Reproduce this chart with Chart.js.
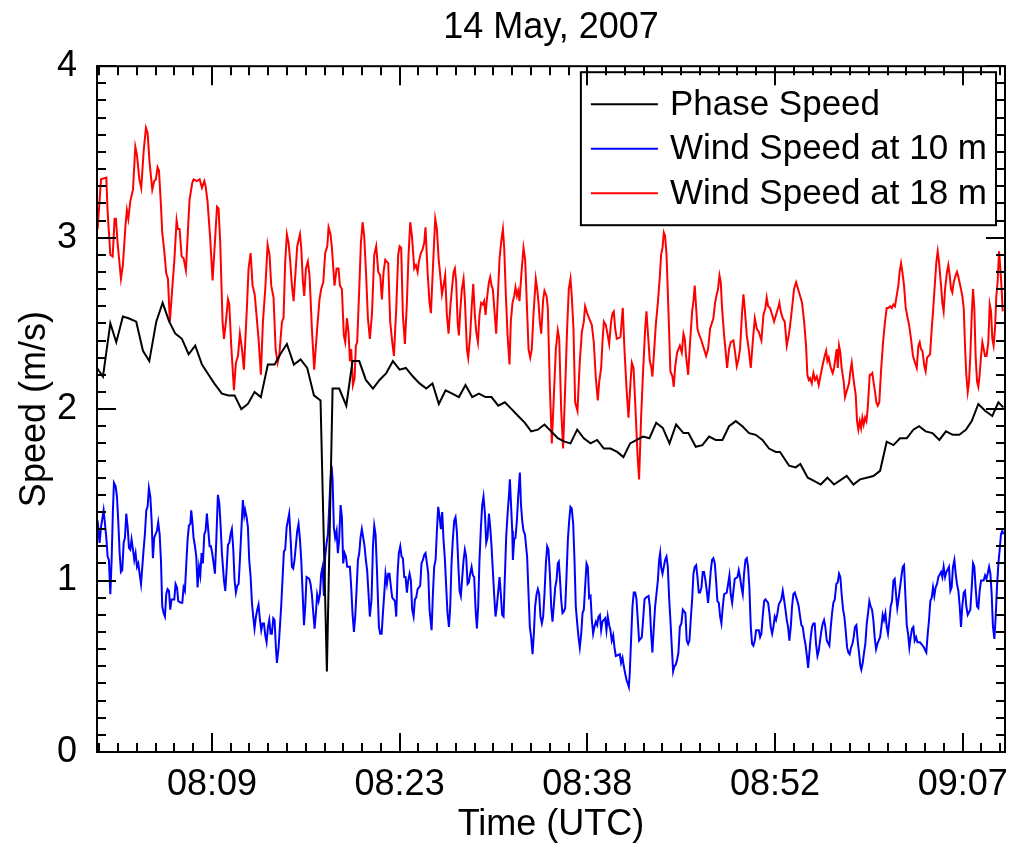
<!DOCTYPE html>
<html>
<head>
<meta charset="utf-8">
<title>Phase speed and wind speed, 14 May 2007</title>
<script src="https://cdn.jsdelivr.net/npm/chart.js@4.4.1/dist/chart.umd.min.js"></script>
<style>
  html, body { margin: 0; padding: 0; background: #fff; }
  #chart { display: block; }
</style>
</head>
<body>
<canvas id="chart" width="1011" height="850"></canvas>
<script>
// times are minutes after 08:00 UTC, speeds in m/s
const phaseTime = [
  0.12, 0.58, 1.15, 1.61, 2.12, 2.56, 3.15, 3.67, 4.16, 4.70, 5.19, 5.70, 6.17, 6.68, 7.20, 7.71, 8.23, 8.74, 9.18, 9.77,
  10.29, 10.75, 11.27, 11.78, 12.29, 12.78, 13.32, 13.84, 14.28, 14.79, 15.33, 15.85, 16.36, 16.88, 17.39, 17.88, 18.32, 18.83, 19.38, 19.86,
  20.38, 20.89, 21.44, 21.95, 22.47, 22.98, 23.50, 23.98, 24.53, 25.04, 25.56, 26.04, 26.53, 27.05, 27.56, 28.08, 28.59, 29.11, 29.62, 30.14,
  30.60, 31.12, 31.63, 32.15, 32.66, 33.18, 33.66, 34.18, 34.69, 35.21, 35.72, 36.24, 36.70, 37.22, 37.73, 38.25, 38.76, 39.28, 39.79, 40.31,
  40.79, 41.31, 41.82, 42.31, 42.80, 43.32, 43.83, 44.35, 44.86, 45.43, 45.81, 46.38, 46.89, 47.41, 47.92, 48.44, 48.95, 49.47, 49.98, 50.50,
  51.01, 51.53, 52.04, 52.56, 52.89, 53.59, 54.10, 54.46, 55.03, 55.55, 56.03, 56.55, 57.06, 58.04, 58.56, 59.07, 59.59, 60.10, 60.62, 61.13,
  61.65, 62.16, 62.68, 63.19, 63.63, 64.14, 64.66, 65.20, 65.71, 66.23, 66.74, 67.26, 67.70, 68.21, 68.73, 69.29, 69.76, 70.14
];
const phaseSpeed = [
  2.24, 2.19, 2.50, 2.39, 2.54, 2.53, 2.51, 2.34, 2.28, 2.51, 2.62, 2.51, 2.44, 2.41, 2.32, 2.37, 2.26, 2.20, 2.15, 2.09,
  2.08, 2.08, 2.00, 2.03, 2.10, 2.07, 2.26, 2.26, 2.32, 2.38, 2.26, 2.29, 2.24, 2.08, 2.05, 0.47, 2.12, 2.12, 2.02, 2.28,
  2.28, 2.17, 2.12, 2.17, 2.21, 2.28, 2.23, 2.24, 2.19, 2.15, 2.12, 2.15, 2.03, 2.11, 2.09, 2.07, 2.14, 2.07, 2.09, 2.07,
  2.07, 2.02, 2.04, 2.00, 1.96, 1.92, 1.87, 1.88, 1.91, 1.87, 1.83, 1.81, 1.80, 1.88, 1.83, 1.80, 1.82, 1.77, 1.77, 1.75,
  1.72, 1.80, 1.82, 1.84, 1.83, 1.92, 1.89, 1.80, 1.91, 1.86, 1.86, 1.78, 1.79, 1.84, 1.82, 1.82, 1.90, 1.93, 1.90, 1.86,
  1.85, 1.82, 1.77, 1.75, 1.75, 1.67, 1.66, 1.68, 1.60, 1.58, 1.56, 1.60, 1.56, 1.61, 1.56, 1.59, 1.60, 1.61, 1.64, 1.81,
  1.79, 1.83, 1.83, 1.88, 1.90, 1.87, 1.86, 1.82, 1.87, 1.85, 1.85, 1.88, 1.93, 2.03, 1.99, 1.96, 2.04, 2.01
];

const wind10Time = [
  0.17, 0.32, 0.43, 0.63, 0.84, 0.94, 1.04, 1.15, 1.25, 1.35, 1.43, 1.56, 1.66, 1.76, 1.87, 1.97, 2.07, 2.18, 2.28, 2.38,
  2.49, 2.59, 2.69, 2.79, 2.90, 3.00, 3.10, 3.21, 3.31, 3.41, 3.52, 3.62, 3.72, 3.82, 3.93, 4.03, 4.13, 4.24, 4.34, 4.44,
  4.54, 4.75, 4.85, 4.96, 5.06, 5.16, 5.27, 5.37, 5.47, 5.57, 5.68, 5.78, 5.88, 6.09, 6.19, 6.30, 6.40, 6.60, 6.71, 6.81,
  6.91, 7.02, 7.12, 7.22, 7.33, 7.40, 7.48, 7.58, 7.69, 7.79, 7.89, 8.00, 8.10, 8.20, 8.30, 8.41, 8.51, 8.61, 8.72, 8.82,
  8.92, 9.02, 9.13, 9.23, 9.33, 9.46, 9.57, 9.67, 9.77, 9.93, 10.03, 10.13, 10.24, 10.34, 10.44, 10.54, 10.65, 10.75, 10.85, 10.96,
  11.06, 11.16, 11.27, 11.39, 11.50, 11.57, 11.68, 11.78, 11.88, 11.99, 12.09, 12.19, 12.29, 12.40, 12.50, 12.60, 12.71, 12.81, 12.91, 13.02,
  13.12, 13.22, 13.33, 13.43, 13.53, 13.63, 13.74, 13.84, 13.94, 14.02, 14.15, 14.25, 14.35, 14.46, 14.56, 14.66, 14.77, 14.87, 14.97, 15.08,
  15.18, 15.28, 15.38, 15.49, 15.59, 15.69, 15.80, 15.90, 16.00, 16.11, 16.21, 16.31, 16.52, 16.62, 16.72, 16.83, 16.93, 17.03, 17.13, 17.24,
  17.34, 17.44, 17.55, 17.65, 17.75, 17.86, 17.96, 18.06, 18.16, 18.24, 18.32, 18.42, 18.52, 18.63, 18.73, 18.83, 18.94, 19.04, 19.14, 19.25,
  19.35, 19.45, 19.66, 19.76, 19.86, 19.97, 20.07, 20.17, 20.28, 20.38, 20.48, 20.58, 20.69, 20.79, 20.89, 20.99, 21.10, 21.20, 21.33, 21.44,
  21.54, 21.64, 21.74, 21.90, 22.00, 22.11, 22.21, 22.31, 22.41, 22.52, 22.62, 22.72, 22.83, 22.93, 23.14, 23.24, 23.34, 23.44, 23.55, 23.65,
  23.75, 23.86, 23.96, 24.06, 24.16, 24.27, 24.37, 24.47, 24.58, 24.68, 24.78, 24.89, 25.09, 25.19, 25.30, 25.40, 25.50, 25.61, 25.71, 25.81,
  25.97, 26.07, 26.17, 26.28, 26.38, 26.48, 26.59, 26.69, 26.79, 26.89, 27.00, 27.10, 27.20, 27.31, 27.41, 27.51, 27.61, 27.72, 27.82, 27.92,
  28.03, 28.13, 28.23, 28.34, 28.44, 28.54, 28.64, 28.75, 28.85, 28.95, 29.06, 29.16, 29.26, 29.37, 29.47, 29.57, 29.67, 29.78, 29.88, 29.98,
  30.09, 30.19, 30.29, 30.40, 30.50, 30.60, 30.70, 30.81, 30.91, 31.01, 31.12, 31.22, 31.32, 31.42, 31.53, 31.63, 31.73, 31.84, 31.94, 32.02,
  32.09, 32.20, 32.25, 32.35, 32.45, 32.56, 32.66, 32.79, 32.87, 32.97, 33.07, 33.18, 33.35, 33.46, 33.56, 33.66, 33.77, 33.87, 33.97, 34.08,
  34.18, 34.28, 34.38, 34.49, 34.59, 34.69, 34.80, 34.90, 35.00, 35.11, 35.21, 35.31, 35.41, 35.52, 35.62, 35.72, 35.80, 35.88, 35.98, 36.08,
  36.19, 36.29, 36.39, 36.50, 36.60, 36.70, 36.80, 36.91, 37.01, 37.11, 37.22, 37.32, 37.42, 37.53, 37.63, 37.73, 37.83, 37.94, 38.04, 38.14,
  38.25, 38.35, 38.45, 38.55, 38.66, 38.76, 38.86, 38.97, 39.07, 39.17, 39.38, 39.48, 39.58, 39.69, 39.79, 39.89, 40.00, 40.10, 40.20, 40.51,
  40.61, 40.72, 40.82, 40.92, 41.03, 41.13, 41.21, 41.28, 41.39, 41.49, 41.59, 41.70, 41.80, 41.90, 42.00, 42.21, 42.31, 42.42, 42.52, 42.73,
  42.83, 42.93, 43.03, 43.14, 43.24, 43.34, 43.45, 43.55, 43.63, 43.70, 43.81, 43.91, 44.01, 44.12, 44.22, 44.32, 44.42, 44.53, 44.63, 44.73,
  44.84, 44.94, 45.04, 45.15, 45.27, 45.38, 45.58, 45.68, 45.79, 45.89, 45.99, 46.10, 46.20, 46.30, 46.41, 46.51, 46.61, 46.71, 46.82, 46.92,
  47.02, 47.13, 47.23, 47.33, 47.44, 47.54, 47.64, 47.74, 47.85, 47.95, 48.05, 48.16, 48.26, 48.36, 48.47, 48.57, 48.77, 48.88, 48.98, 49.08,
  49.19, 49.29, 49.39, 49.60, 49.70, 49.80, 49.91, 50.01, 50.11, 50.22, 50.32, 50.42, 50.52, 50.63, 50.73, 50.83, 50.94, 51.04, 51.25, 51.35,
  51.45, 51.55, 51.66, 51.76, 51.97, 52.07, 52.17, 52.28, 52.38, 52.48, 52.58, 52.69, 52.79, 52.99, 53.10, 53.20, 53.31, 53.41, 53.51, 53.61,
  53.72, 53.82, 53.92, 54.03, 54.23, 54.33, 54.44, 54.54, 54.64, 54.75, 54.85, 54.95, 55.06, 55.16, 55.26, 55.36, 55.47, 55.57, 55.67, 55.78,
  55.88, 55.98, 56.09, 56.19, 56.29, 56.39, 56.50, 56.70, 56.81, 56.91, 57.01, 57.12, 57.24, 57.35, 57.45, 57.55, 57.65, 57.76, 57.86, 57.96,
  58.07, 58.17, 58.27, 58.38, 58.48, 58.58, 58.68, 58.79, 58.89, 58.99, 59.10, 59.17, 59.28, 59.38, 59.48, 59.59, 59.69, 59.79, 59.89, 60.00,
  60.10, 60.20, 60.31, 60.41, 60.51, 60.62, 60.72, 60.82, 60.92, 61.03, 61.13, 61.23, 61.34, 61.44, 61.54, 61.65, 61.75, 61.85, 61.95, 62.06,
  62.16, 62.26, 62.37, 62.47, 62.57, 62.68, 62.78, 62.88, 62.98, 63.09, 63.19, 63.29, 63.40, 63.50, 63.70, 63.91, 64.01, 64.12, 64.19, 64.30,
  64.40, 64.50, 64.61, 64.71, 64.81, 64.91, 65.02, 65.12, 65.33, 65.43, 65.53, 65.64, 65.74, 65.94, 66.05, 66.15, 66.25, 66.36, 66.46, 66.56,
  66.67, 66.77, 66.87, 66.97, 67.08, 67.18, 67.28, 67.39, 67.59, 67.70, 67.80, 67.90, 68.00, 68.11, 68.21, 68.31, 68.42, 68.62, 68.73, 68.83,
  68.93, 69.04, 69.14, 69.24, 69.34, 69.45, 69.55, 69.65, 69.76, 69.86, 69.96, 70.06, 70.14
];
const wind10Speed = [
  1.35, 1.22, 1.31, 1.41, 1.25, 1.14, 1.12, 0.92, 1.12, 1.41, 1.57, 1.55, 1.49, 1.35, 1.16, 1.05, 1.06, 1.22, 1.25, 1.39,
  1.31, 1.19, 1.18, 1.24, 1.18, 1.12, 1.16, 1.08, 1.10, 1.04, 0.98, 1.08, 1.18, 1.27, 1.41, 1.43, 1.54, 1.49, 1.35, 1.13,
  1.25, 1.29, 1.34, 1.27, 1.12, 0.85, 0.81, 0.79, 0.92, 0.95, 0.94, 0.83, 0.89, 0.89, 0.98, 0.96, 0.88, 0.87, 0.87, 0.96,
  0.94, 1.10, 1.24, 1.32, 1.33, 1.41, 1.35, 1.25, 1.20, 1.14, 0.96, 1.08, 1.03, 1.16, 1.10, 1.27, 1.29, 1.39, 1.29, 1.20,
  1.20, 1.16, 1.10, 1.04, 1.22, 1.50, 1.45, 1.32, 1.16, 1.00, 0.94, 1.06, 1.21, 1.22, 1.27, 1.30, 1.18, 1.00, 0.93, 0.97,
  0.98, 1.12, 1.29, 1.47, 1.38, 1.41, 1.37, 1.31, 1.12, 1.02, 0.87, 0.79, 0.72, 0.79, 0.83, 0.86, 0.77, 0.71, 0.75, 0.75,
  0.68, 0.64, 0.73, 0.77, 0.69, 0.69, 0.78, 0.77, 0.61, 0.52, 0.61, 0.73, 0.85, 1.02, 1.17, 1.18, 1.31, 1.35, 1.39, 1.24,
  1.08, 1.07, 1.12, 1.21, 1.29, 1.33, 1.24, 1.12, 0.94, 0.74, 0.85, 1.02, 1.01, 0.98, 0.92, 0.81, 0.72, 0.81, 0.92, 0.88,
  0.92, 1.04, 1.08, 0.91, 1.14, 1.22, 1.27, 1.43, 1.59, 1.67, 1.59, 1.31, 1.25, 1.29, 1.16, 1.24, 1.44, 1.37, 1.10, 1.16,
  1.14, 1.08, 1.08, 0.96, 0.81, 0.70, 0.79, 0.94, 1.12, 1.16, 1.25, 1.30, 1.25, 1.20, 1.12, 1.06, 0.92, 0.79, 0.89, 1.20,
  1.32, 1.27, 1.08, 0.73, 0.69, 0.69, 0.81, 0.92, 1.04, 0.98, 1.04, 1.04, 0.96, 0.90, 0.88, 0.79, 1.04, 1.16, 1.20, 1.14,
  1.13, 1.02, 1.02, 0.93, 1.00, 1.04, 1.00, 0.83, 0.79, 0.89, 0.90, 0.95, 0.97, 1.10, 1.12, 1.15, 1.16, 1.10, 1.04, 0.83,
  0.71, 0.92, 1.08, 1.12, 1.29, 1.43, 1.37, 1.30, 1.40, 1.24, 1.12, 0.96, 0.81, 0.73, 0.85, 1.10, 1.24, 1.35, 1.37, 1.29,
  1.10, 0.94, 0.91, 1.02, 1.12, 1.18, 1.14, 0.98, 0.99, 1.04, 1.08, 1.03, 1.02, 0.83, 0.72, 0.85, 1.12, 1.31, 1.44, 1.49,
  1.39, 1.22, 1.25, 1.39, 1.31, 1.20, 1.06, 0.91, 0.79, 0.85, 0.94, 1.02, 0.92, 0.80, 0.79, 1.02, 1.25, 1.39, 1.49, 1.59,
  1.47, 1.29, 1.12, 1.24, 1.25, 1.35, 1.49, 1.63, 1.45, 1.35, 1.29, 1.27, 1.14, 0.92, 0.73, 0.67, 0.57, 0.69, 0.85, 0.92,
  0.95, 0.92, 0.79, 0.75, 0.79, 0.92, 1.10, 1.20, 1.18, 1.04, 0.85, 0.76, 0.85, 0.96, 1.00, 1.10, 1.11, 1.02, 0.89, 0.81,
  0.82, 0.84, 1.02, 1.24, 1.35, 1.43, 1.42, 1.33, 1.12, 0.85, 0.75, 0.67, 0.61, 0.69, 0.81, 0.83, 0.96, 1.10, 1.08, 0.90,
  0.91, 0.77, 0.69, 0.73, 0.76, 0.74, 0.79, 0.80, 0.71, 0.76, 0.78, 0.71, 0.79, 0.74, 0.71, 0.65, 0.68, 0.61, 0.56, 0.57,
  0.52, 0.55, 0.50, 0.46, 0.42, 0.40, 0.38, 0.46, 0.67, 0.85, 0.93, 0.93, 0.89, 0.77, 0.65, 0.67, 0.77, 0.89, 0.90, 0.91,
  0.85, 0.69, 0.58, 0.73, 0.85, 0.92, 1.00, 1.12, 1.16, 1.08, 1.04, 1.08, 1.12, 1.14, 1.08, 0.90, 0.77, 0.61, 0.47, 0.50,
  0.51, 0.54, 0.58, 0.73, 0.75, 0.83, 0.81, 0.65, 0.63, 0.65, 0.77, 0.89, 1.04, 1.08, 1.09, 1.02, 0.93, 0.93, 0.96, 1.05,
  1.05, 1.00, 0.94, 0.87, 0.96, 1.06, 1.12, 1.13, 1.10, 1.00, 0.88, 0.87, 0.79, 0.75, 0.85, 0.92, 0.93, 0.98, 1.03, 0.92,
  0.87, 0.94, 1.01, 1.02, 1.06, 1.02, 0.96, 0.92, 1.04, 1.12, 1.13, 1.08, 0.96, 0.73, 0.63, 0.62, 0.65, 0.71, 0.71, 0.67,
  0.69, 0.79, 0.88, 0.89, 0.87, 0.81, 0.73, 0.69, 0.73, 0.79, 0.77, 0.81, 0.86, 0.89, 0.94, 0.89, 0.83, 0.77, 0.73, 0.65,
  0.73, 0.85, 0.92, 0.93, 0.88, 0.85, 0.79, 0.74, 0.73, 0.67, 0.63, 0.57, 0.49, 0.58, 0.67, 0.73, 0.75, 0.75, 0.63, 0.56,
  0.59, 0.65, 0.71, 0.75, 0.77, 0.73, 0.65, 0.62, 0.73, 0.81, 0.87, 0.89, 0.98, 0.99, 1.04, 1.02, 0.92, 0.83, 0.79, 0.71,
  0.61, 0.58, 0.57, 0.61, 0.63, 0.67, 0.73, 0.74, 0.65, 0.58, 0.50, 0.48, 0.52, 0.58, 0.63, 0.75, 0.81, 0.88, 0.85, 0.83,
  0.77, 0.67, 0.60, 0.63, 0.65, 0.67, 0.73, 0.80, 0.77, 0.81, 0.73, 0.69, 0.77, 0.85, 0.88, 1.00, 1.01, 0.92, 0.84, 0.90,
  0.96, 1.02, 1.08, 1.09, 0.92, 0.74, 0.69, 0.61, 0.67, 0.72, 0.73, 0.65, 0.67, 0.64, 0.64, 0.62, 0.61, 0.59, 0.58, 0.69,
  0.77, 0.88, 0.90, 0.96, 0.91, 0.96, 0.98, 1.02, 1.05, 1.02, 1.08, 1.02, 1.05, 1.08, 0.94, 0.96, 1.08, 1.12, 1.04, 0.98,
  0.94, 0.85, 0.73, 0.85, 0.93, 0.94, 0.85, 0.80, 0.83, 0.96, 1.10, 1.08, 0.96, 0.85, 0.84, 0.94, 1.00, 1.00, 1.03, 1.01,
  1.04, 1.08, 1.04, 0.92, 0.73, 0.66, 0.79, 0.96, 1.10, 1.18, 1.27, 1.29, 1.27
];

const wind18Time = [
  0.17, 0.43, 0.84, 0.94, 1.15, 1.33, 1.48, 1.58, 1.71, 1.97, 2.12, 2.33, 2.43, 2.54, 2.69, 2.90, 3.08, 3.21, 3.39, 3.54,
  3.72, 3.90, 4.03, 4.18, 4.39, 4.54, 4.67, 4.80, 4.91, 5.06, 5.16, 5.32, 5.47, 5.60, 5.75, 5.93, 6.09, 6.27, 6.37, 6.50,
  6.66, 6.81, 6.99, 7.15, 7.27, 7.48, 7.58, 7.84, 8.05, 8.23, 8.41, 8.51, 8.66, 8.87, 9.05, 9.26, 9.39, 9.51, 9.64, 9.82,
  9.93, 10.08, 10.24, 10.34, 10.49, 10.70, 10.85, 11.01, 11.16, 11.32, 11.47, 11.70, 11.83, 11.99, 12.14, 12.30, 12.42, 12.60, 12.78, 12.94,
  13.12, 13.30, 13.45, 13.58, 13.76, 13.92, 14.07, 14.20, 14.41, 14.53, 14.66, 14.79, 14.92, 15.05, 15.18, 15.31, 15.44, 15.59, 15.80, 15.90,
  16.03, 16.13, 16.26, 16.41, 16.54, 16.72, 16.90, 17.13, 17.31, 17.44, 17.60, 17.75, 17.91, 18.01, 18.16, 18.27, 18.47, 18.63, 18.78, 18.89,
  19.04, 19.19, 19.30, 19.43, 19.55, 19.66, 19.76, 19.89, 20.02, 20.12, 20.22, 20.38, 20.51, 20.64, 20.76, 20.89, 21.05, 21.20, 21.36, 21.54,
  21.69, 21.85, 22.00, 22.13, 22.26, 22.39, 22.62, 22.77, 22.93, 23.06, 23.24, 23.39, 23.50, 23.62, 23.75, 23.91, 24.06, 24.19, 24.32, 24.45,
  24.63, 24.76, 24.89, 24.99, 25.14, 25.27, 25.40, 25.50, 25.66, 25.81, 25.92, 26.07, 26.25, 26.38, 26.51, 26.64, 26.77, 26.89, 27.02, 27.15,
  27.28, 27.41, 27.54, 27.67, 27.77, 27.87, 27.98, 28.08, 28.18, 28.31, 28.44, 28.54, 28.70, 28.80, 28.95, 29.06, 29.19, 29.31, 29.42, 29.55,
  29.67, 29.80, 29.93, 30.03, 30.14, 30.24, 30.40, 30.50, 30.60, 30.70, 30.81, 30.96, 31.09, 31.22, 31.37, 31.48, 31.58, 31.71, 31.84, 31.99,
  32.09, 32.22, 32.35, 32.45, 32.56, 32.66, 32.76, 32.92, 33.07, 33.20, 33.46, 33.59, 33.71, 33.84, 34.02, 34.13, 34.23, 34.33, 34.44, 34.59,
  34.69, 34.85, 34.95, 35.11, 35.26, 35.44, 35.57, 35.72, 35.83, 35.98, 36.13, 36.29, 36.44, 36.57, 36.70, 36.80, 36.93, 37.06, 37.24, 37.42,
  37.58, 37.73, 37.83, 37.99, 38.14, 38.35, 38.50, 38.66, 38.81, 38.92, 39.07, 39.17, 39.28, 39.43, 39.58, 39.69, 39.84, 39.95, 40.05, 40.15,
  40.28, 40.56, 40.74, 40.87, 41.03, 41.18, 41.34, 41.44, 41.57, 41.70, 41.88, 42.00, 42.16, 42.31, 42.47, 42.57, 42.73, 42.83, 42.93, 43.03,
  43.19, 43.29, 43.45, 43.60, 43.70, 43.81, 43.91, 44.01, 44.12, 44.27, 44.42, 44.58, 44.68, 44.79, 44.94, 45.15, 45.30, 45.43, 45.53, 45.63,
  45.79, 45.94, 46.10, 46.20, 46.30, 46.41, 46.51, 46.61, 46.77, 47.02, 47.18, 47.33, 47.49, 47.74, 47.87, 48.00, 48.10, 48.21, 48.31, 48.41,
  48.57, 48.67, 48.80, 48.95, 49.08, 49.29, 49.42, 49.55, 49.68, 49.80, 49.96, 50.06, 50.16, 50.32, 50.47, 50.63, 50.78, 50.94, 51.09, 51.25,
  51.45, 51.61, 51.76, 51.86, 51.97, 52.12, 52.28, 52.43, 52.58, 52.74, 52.84, 52.94, 53.10, 53.25, 53.41, 53.56, 53.67, 53.82, 53.97, 54.13,
  54.28, 54.44, 54.59, 54.75, 54.90, 55.00, 55.11, 55.21, 55.34, 55.47, 55.60, 55.73, 55.88, 56.03, 56.19, 56.34, 56.45, 56.55, 56.65, 56.81,
  56.96, 57.06, 57.27, 57.35, 57.45, 57.55, 57.65, 57.81, 57.91, 58.02, 58.22, 58.32, 58.43, 58.53, 58.63, 58.74, 58.84, 58.94, 59.05, 59.15,
  59.25, 59.35, 59.46, 59.56, 59.66, 59.82, 59.92, 60.02, 60.13, 60.23, 60.33, 60.44, 60.56, 60.69, 60.85, 61.00, 61.13, 61.26, 61.39, 61.52,
  61.65, 61.77, 61.90, 62.03, 62.13, 62.24, 62.34, 62.47, 62.60, 62.75, 62.86, 63.01, 63.16, 63.32, 63.45, 63.58, 63.68, 63.78, 63.89, 64.04,
  64.14, 64.25, 64.48, 64.61, 64.73, 64.86, 64.97, 65.07, 65.17, 65.33, 65.43, 65.53, 65.64, 65.79, 65.89, 66.00, 66.10, 66.20, 66.31, 66.46,
  66.56, 66.67, 66.87, 66.97, 67.08, 67.18, 67.28, 67.39, 67.49, 67.59, 67.70, 67.80, 67.90, 68.00, 68.11, 68.21, 68.31, 68.42, 68.52, 68.73,
  68.85, 68.98, 69.09, 69.19, 69.29, 69.39, 69.50, 69.60, 69.70, 69.81, 69.91, 70.01, 70.09
];
const wind18Speed = [
  3.05, 3.34, 3.35, 3.15, 2.90, 2.89, 3.11, 3.11, 2.97, 2.76, 2.84, 3.08, 3.16, 3.11, 3.21, 3.28, 3.53, 3.48, 3.34, 3.29,
  3.50, 3.64, 3.61, 3.44, 3.28, 3.33, 3.34, 3.41, 3.39, 3.19, 3.03, 2.92, 2.79, 2.76, 2.51, 2.70, 2.86, 3.10, 3.05, 3.05,
  2.89, 2.88, 2.81, 3.05, 3.22, 3.32, 3.34, 3.33, 3.34, 3.29, 3.33, 3.30, 3.21, 2.99, 2.75, 3.01, 3.18, 3.17, 2.97, 2.51,
  2.41, 2.51, 2.64, 2.61, 2.37, 2.11, 2.27, 2.31, 2.44, 2.35, 2.23, 2.59, 2.82, 2.91, 2.72, 2.67, 2.57, 2.41, 2.20, 2.51,
  2.70, 2.96, 2.90, 2.72, 2.65, 2.35, 2.27, 2.31, 2.51, 2.53, 2.86, 3.02, 2.97, 2.86, 2.72, 2.63, 2.78, 2.95, 3.02, 2.94,
  2.74, 2.66, 2.82, 2.86, 2.78, 2.47, 2.23, 2.47, 2.64, 2.70, 2.74, 2.91, 2.95, 3.06, 3.02, 2.94, 2.72, 2.82, 2.82, 2.72,
  2.70, 2.43, 2.39, 2.53, 2.45, 2.28, 2.35, 2.14, 2.18, 2.37, 2.39, 2.70, 2.97, 3.09, 3.01, 2.82, 2.53, 2.41, 2.55, 2.90,
  2.95, 2.80, 2.78, 2.64, 2.80, 2.87, 2.85, 2.51, 2.39, 2.31, 2.59, 2.90, 2.95, 2.94, 2.55, 2.38, 2.62, 2.90, 3.09, 3.01,
  2.82, 2.84, 2.80, 2.86, 2.91, 2.93, 2.97, 3.06, 2.80, 2.62, 2.56, 2.82, 3.11, 3.05, 2.88, 2.78, 2.67, 2.72, 2.78, 2.55,
  2.44, 2.59, 2.70, 2.80, 2.82, 2.74, 2.51, 2.43, 2.57, 2.70, 2.76, 2.64, 2.35, 2.30, 2.43, 2.59, 2.73, 2.55, 2.45, 2.39,
  2.55, 2.62, 2.61, 2.63, 2.55, 2.64, 2.74, 2.77, 2.72, 2.70, 2.59, 2.44, 2.66, 2.88, 2.99, 3.05, 2.94, 2.66, 2.43, 2.26,
  2.51, 2.62, 2.66, 2.71, 2.66, 2.69, 2.63, 2.80, 2.94, 2.87, 2.35, 2.30, 2.35, 2.55, 2.76, 2.70, 2.62, 2.51, 2.44, 2.64,
  2.69, 2.66, 2.59, 2.12, 1.80, 2.12, 2.35, 2.46, 2.41, 2.00, 1.77, 2.12, 2.47, 2.70, 2.76, 2.66, 2.47, 2.04, 1.99, 2.28,
  2.45, 2.51, 2.60, 2.56, 2.53, 2.49, 2.39, 2.18, 2.05, 2.16, 2.24, 2.39, 2.51, 2.49, 2.43, 2.38, 2.51, 2.56, 2.57, 2.47,
  2.41, 2.42, 2.59, 2.35, 2.12, 1.95, 2.16, 2.27, 2.24, 2.04, 1.73, 1.59, 1.96, 2.22, 2.47, 2.57, 2.39, 2.28, 2.25, 2.19,
  2.37, 2.49, 2.62, 2.77, 2.90, 2.94, 3.03, 3.01, 2.90, 2.57, 2.22, 2.19, 2.13, 2.25, 2.33, 2.37, 2.33, 2.44, 2.41, 2.31,
  2.20, 2.39, 2.57, 2.63, 2.72, 2.59, 2.47, 2.44, 2.41, 2.35, 2.31, 2.35, 2.47, 2.53, 2.62, 2.67, 2.70, 2.78, 2.74, 2.59,
  2.43, 2.35, 2.24, 2.35, 2.39, 2.40, 2.33, 2.25, 2.29, 2.35, 2.57, 2.67, 2.59, 2.43, 2.35, 2.24, 2.39, 2.53, 2.47, 2.45,
  2.40, 2.55, 2.59, 2.65, 2.60, 2.59, 2.55, 2.51, 2.55, 2.59, 2.62, 2.57, 2.53, 2.51, 2.37, 2.43, 2.49, 2.59, 2.70, 2.74,
  2.70, 2.66, 2.62, 2.51, 2.37, 2.20, 2.17, 2.18, 2.15, 2.21, 2.17, 2.19, 2.14, 2.20, 2.26, 2.31, 2.34, 2.28, 2.30, 2.24,
  2.21, 2.24, 2.35, 2.24, 2.37, 2.33, 2.24, 2.16, 2.07, 2.10, 2.15, 2.22, 2.27, 2.20, 2.14, 2.08, 1.93, 1.88, 1.93, 1.89,
  1.95, 1.91, 1.95, 1.93, 2.00, 2.20, 2.20, 2.21, 2.15, 2.10, 2.04, 2.02, 2.04, 2.22, 2.39, 2.51, 2.59, 2.59, 2.60, 2.59,
  2.61, 2.60, 2.66, 2.72, 2.80, 2.85, 2.80, 2.72, 2.59, 2.53, 2.49, 2.41, 2.31, 2.27, 2.24, 2.37, 2.39, 2.35, 2.34, 2.25,
  2.22, 2.30, 2.32, 2.47, 2.59, 2.74, 2.86, 2.92, 2.86, 2.72, 2.62, 2.57, 2.70, 2.80, 2.84, 2.78, 2.70, 2.68, 2.74, 2.78,
  2.80, 2.77, 2.70, 2.66, 2.59, 2.37, 2.20, 2.10, 2.16, 2.31, 2.55, 2.70, 2.59, 2.31, 2.16, 2.13, 2.20, 2.31, 2.39, 2.31,
  2.31, 2.39, 2.61, 2.57, 2.41, 2.37, 2.47, 2.66, 2.74, 2.92, 2.82, 2.70, 2.57
];

const xRange = [0.12, 70.27];
const xTickValues = [9, 23.5, 38, 52.5, 67];
const xTickLabels = ['08:09', '08:23', '08:38', '08:52', '09:07'];
const xMinorStep = 1.45;
const yTickValues = [0, 1, 2, 3, 4];
const yMinorStep = 0.1;

const FONT = "'Liberation Sans', Arial, Helvetica, sans-serif";
Chart.defaults.font.family = FONT;
Chart.defaults.color = '#000';

function toPoints(times, values) {
  return times.map((t, i) => ({ x: t, y: values[i] }));
}

// IDL style box: inward ticks on all four sides, minor and major
const frameTicks = {
  id: 'frameTicks',
  afterDraw(chart) {
    const { ctx, chartArea: a, scales: { x, y } } = chart;
    ctx.save();
    ctx.strokeStyle = '#000';
    ctx.lineWidth = 2;
    ctx.beginPath();
    const nBack = Math.floor((xTickValues[0] - x.min) / xMinorStep);
    const first = xTickValues[0] - nBack * xMinorStep;
    for (let k = 0; first + k * xMinorStep <= x.max; k++) {
      const v = first + k * xMinorStep;
      const major = xTickValues.some(m => Math.abs(m - v) < 1e-3);
      const len = major ? 19 : 9;
      const px = Math.round(x.getPixelForValue(v));
      ctx.moveTo(px, a.bottom); ctx.lineTo(px, a.bottom - len);
      ctx.moveTo(px, a.top); ctx.lineTo(px, a.top + len);
    }
    const nY = Math.round((y.max - y.min) / yMinorStep);
    for (let k = 0; k <= nY; k++) {
      const v = y.min + k * yMinorStep;
      const major = yTickValues.some(m => Math.abs(m - v) < 1e-3);
      const len = major ? 19 : 9;
      const py = Math.round(y.getPixelForValue(v));
      ctx.moveTo(a.left, py); ctx.lineTo(a.left + len, py);
      ctx.moveTo(a.right, py); ctx.lineTo(a.right - len, py);
    }
    ctx.stroke();
    ctx.strokeRect(a.left, a.top, a.right - a.left, a.bottom - a.top);
    ctx.restore();
  }
};

// legend in a box, top right inside the plot
const boxLegend = {
  id: 'boxLegend',
  afterDraw(chart) {
    const { ctx, chartArea: a } = chart;
    const sets = chart.data.datasets;
    ctx.save();
    ctx.font = '35px ' + FONT;
    const textW = Math.max(...sets.map(d => ctx.measureText(d.label).width));
    const w = 10 + 67 + 12 + textW + 9;
    const h = 153;
    const right = a.right - 9;
    const left = right - w;
    const top = a.top + 6;
    ctx.lineWidth = 2;
    ctx.strokeStyle = '#000';
    ctx.strokeRect(left, top, w, h);
    ctx.textAlign = 'left';
    ctx.textBaseline = 'middle';
    sets.forEach((d, i) => {
      const cy = top + 32 + i * 44.5;
      ctx.strokeStyle = d.borderColor;
      ctx.lineWidth = 2;
      ctx.beginPath();
      ctx.moveTo(left + 10, cy);
      ctx.lineTo(left + 77, cy);
      ctx.stroke();
      ctx.fillStyle = '#000';
      ctx.fillText(d.label, left + 89, cy + 1);
    });
    ctx.restore();
  }
};

new Chart(document.getElementById('chart'), {
  type: 'line',
  data: {
    datasets: [
      { label: 'Phase Speed', data: toPoints(phaseTime, phaseSpeed), borderColor: '#000000', order: 0 },
      { label: 'Wind Speed at 10 m', data: toPoints(wind10Time, wind10Speed), borderColor: '#0000ff', order: 1 },
      { label: 'Wind Speed at 18 m', data: toPoints(wind18Time, wind18Speed), borderColor: '#ff0000', order: 2 }
    ]
  },
  options: {
    responsive: false,
    animation: false,
    devicePixelRatio: 1,
    layout: { padding: { left: 0, right: 6, top: 0, bottom: 0 } },
    elements: {
      line: { borderWidth: 2, tension: 0, fill: false },
      point: { radius: 0, hoverRadius: 0 }
    },
    plugins: {
      legend: { display: false },
      tooltip: { enabled: false },
      title: {
        display: true,
        text: '14 May, 2007',
        fullSize: false,
        color: '#000',
        font: { size: 36, weight: 'normal' },
        padding: { top: 6, bottom: 17 }
      }
    },
    scales: {
      x: {
        type: 'linear',
        min: xRange[0],
        max: xRange[1],
        afterBuildTicks: s => { s.ticks = xTickValues.map(v => ({ value: v })); },
        afterFit: s => { s.height = 98; s.paddingLeft = 0; s.paddingRight = 0; },
        ticks: {
          callback: (v, i) => xTickLabels[i],
          font: { size: 36 },
          padding: 11,
          maxRotation: 0,
          autoSkip: false
        },
        grid: { display: false, drawTicks: false },
        border: { display: false },
        title: { display: true, text: 'Time (UTC)', font: { size: 36 }, padding: { top: 0, bottom: 3 } }
      },
      y: {
        min: 0,
        max: 4,
        afterBuildTicks: s => { s.ticks = yTickValues.map(v => ({ value: v })); },
        afterFit: s => { s.width = 97; s.paddingTop = 0; s.paddingBottom = 0; },
        ticks: { font: { size: 36 }, padding: 20 },
        grid: { display: false, drawTicks: false },
        border: { display: false },
        title: { display: true, text: 'Speed (m/s)', font: { size: 36 }, padding: { top: 13, bottom: 0 } }
      }
    }
  },
  plugins: [frameTicks, boxLegend]
});
</script>
</body>
</html>
